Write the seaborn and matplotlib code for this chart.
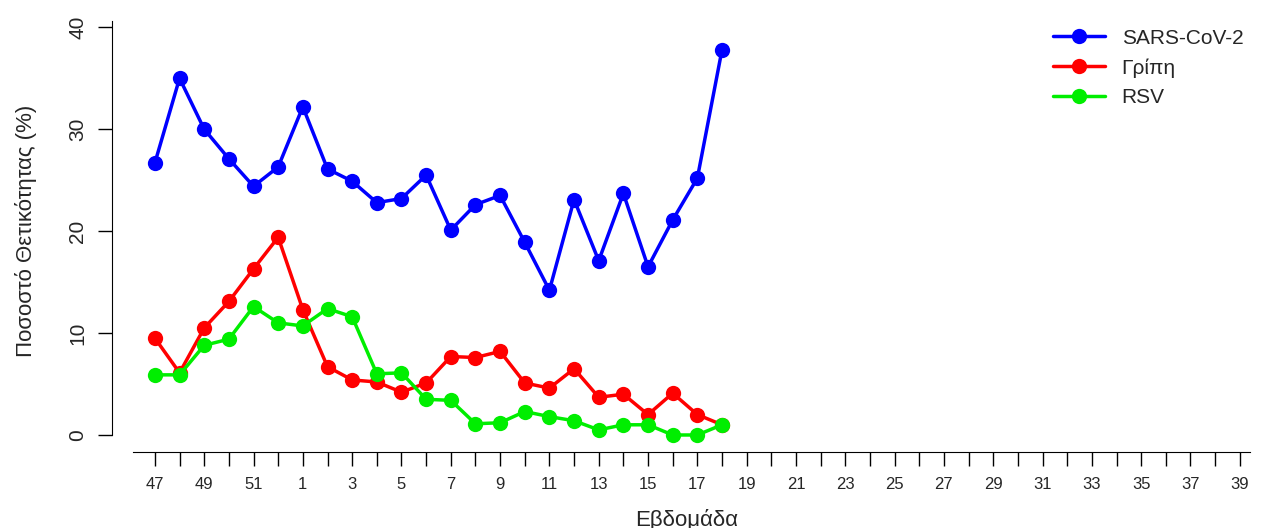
import pandas as pd
import matplotlib
matplotlib.use("Agg")
import matplotlib.pyplot as plt
import seaborn as sns

weeks = [47, 48, 49, 50, 51, 52] + list(range(1, 40))
obs_weeks = [47, 48, 49, 50, 51, 52] + list(range(1, 19))
sars = [26.7, 35.0, 30.0, 27.1, 24.4, 26.3, 32.2, 26.1, 24.9, 22.8, 23.2, 25.5,
        20.1, 22.6, 23.5, 18.9, 14.2, 23.1, 17.1, 23.7, 16.5, 21.1, 25.2, 37.8]
flu = [9.5, 6.1, 10.5, 13.1, 16.3, 19.4, 12.3, 6.7, 5.4, 5.2, 4.2, 5.1,
       7.7, 7.6, 8.2, 5.1, 4.6, 6.5, 3.7, 4.0, 2.0, 4.1, 2.0, 1.0]
rsv = [5.9, 5.9, 8.8, 9.4, 12.6, 11.0, 10.7, 12.4, 11.6, 6.0, 6.1, 3.5,
       3.4, 1.1, 1.2, 2.3, 1.8, 1.4, 0.5, 1.0, 1.0, 0.0, 0.0, 1.0]
series = {"SARS-CoV-2": sars, "Γρίπη": flu, "RSV": rsv}
colors = {"SARS-CoV-2": "#0000FF", "Γρίπη": "#FF0000", "RSV": "#00EE00"}

rows = []
for name, vals in series.items():
    for w, v in zip(obs_weeks, vals):
        rows.append({"pos": weeks.index(w), "value": v, "virus": name})
df = pd.DataFrame(rows)

sns.set_style("white")
plt.rcParams['font.family'] = ['Liberation Sans', 'DejaVu Sans']

fig = plt.figure(figsize=(12.74, 5.28), dpi=100)
ax = fig.add_axes([112 / 1274, (528 - 452) / 528, (1262 - 112) / 1274, (452 - 10) / 528])
sns.lineplot(data=df, x="pos", y="value", hue="virus", palette=colors, marker="o",
             markersize=11, markeredgewidth=0, linewidth=2.5, ax=ax)

ax.set_xlim(-1.74, 44.9)
ax.set_ylim(-1.67, 41.7)
ax.set_xticks(range(len(weeks)))
ax.set_xticklabels([str(w) if i % 2 == 0 else "" for i, w in enumerate(weeks)], fontsize=12)
ax.set_yticks([0, 10, 20, 30, 40])
ax.set_yticklabels(["0", "10", "20", "30", "40"], rotation=90, va="center", fontsize=15)
ax.tick_params(axis="both", direction="out", length=10, width=1, color="black", left=True, bottom=True)
ax.tick_params(axis="y", pad=8)
ax.tick_params(axis="x", pad=8)
for s in ["top", "right"]:
    ax.spines[s].set_visible(False)
ax.spines["left"].set_bounds(0, 40.6)
ax.spines["bottom"].set_bounds(-0.9, 44.4)
for s in ["left", "bottom"]:
    ax.spines[s].set_color("black")
ax.set_xlabel("Εβδομάδα", fontsize=16, labelpad=12)
ax.set_ylabel("Ποσοστό Θετικότητας (%)", fontsize=16, labelpad=22)
ax.legend(title=None, frameon=False, fontsize=15, loc="upper right",
          bbox_to_anchor=(1.0, 1.0), handlelength=2.5)
fig.savefig("out.png", dpi=100)
